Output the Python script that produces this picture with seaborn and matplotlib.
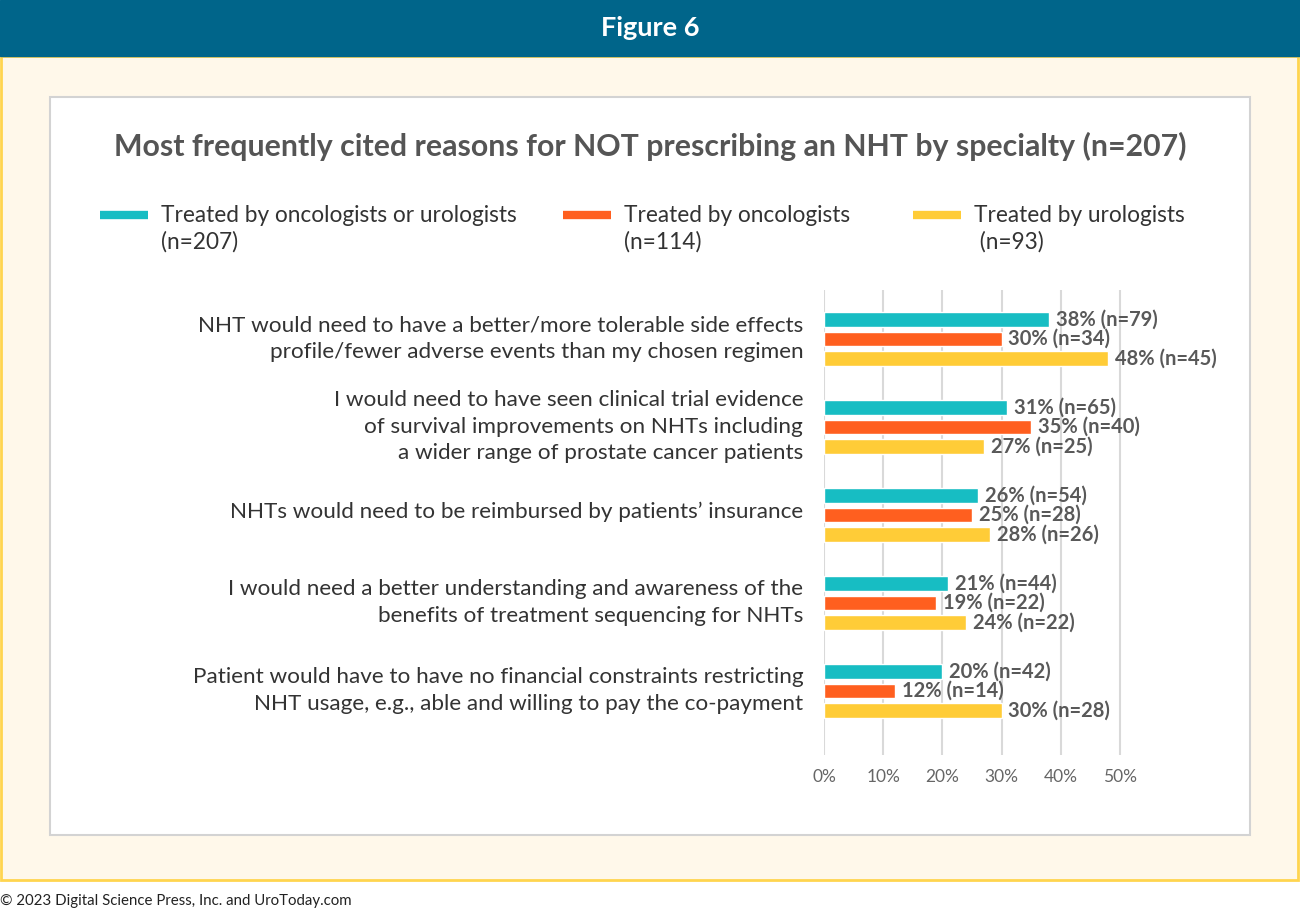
import numpy as np
import pandas as pd
import matplotlib.pyplot as plt
import matplotlib.transforms as mtransforms
import seaborn as sns
from matplotlib.patches import Rectangle

reasons = [
    "NHT would need to have a better/more tolerable side effects\nprofile/fewer adverse events than my chosen regimen",
    "I would need to have seen clinical trial evidence\nof survival improvements on NHTs including\na wider range of prostate cancer patients",
    "NHTs would need to be reimbursed by patients\u2019 insurance",
    "I would need a better understanding and awareness of the\nbenefits of treatment sequencing for NHTs",
    "Patient would have to have no financial constraints restricting\nNHT usage, e.g., able and willing to pay the co-payment",
]
groups = ["Treated by oncologists or urologists\n(n=207)",
          "Treated by oncologists\n(n=114)",
          "Treated by urologists\n (n=93)"]
pct_all = [38, 31, 26, 21, 20]
n_all = [79, 65, 54, 44, 42]
pct_onc = [30, 35, 25, 19, 12]
n_onc = [34, 40, 28, 22, 14]
pct_uro = [48, 27, 28, 24, 30]
n_uro = [45, 25, 26, 22, 28]
colors = ["#17BDC3", "#FF5F1F", "#FFCC37"]

df = pd.DataFrame({
    "reason": reasons * 3,
    "group": [g for g in groups for _ in reasons],
    "pct": pct_all + pct_onc + pct_uro,
    "n": n_all + n_onc + n_uro,
})

sns.set_theme(style="white")
plt.rcParams['font.family'] = ['Lato', 'DejaVu Sans']

fig = plt.figure(figsize=(13, 9.13), dpi=100)

# background frame in pixel coordinates
bg = fig.add_axes([0, 0, 1, 1], zorder=0)
bg.set_xlim(0, 1300)
bg.set_ylim(913, 0)
bg.axis('off')
bg.add_patch(Rectangle((0, 0), 1300, 913, color='white'))
bg.add_patch(Rectangle((1, 56), 1297, 824, facecolor='#FFF8EA', edgecolor='#FFD54F', lw=2))
bg.add_patch(Rectangle((0, 0), 1300, 56, color='#00658A'))
bg.add_patch(Rectangle((50, 97), 1200, 738, facecolor='white', edgecolor='#D3D3D3', lw=1.5))
bg.text(650, 28, "Figure 6", color='white', fontsize=19.5, fontweight='bold', ha='center', va='center')
bg.text(650, 146, "Most frequently cited reasons for NOT prescribing an NHT by specialty (n=207)",
        color='#555555', fontsize=21.8, fontweight='bold', ha='center', va='center')
bg.text(0, 901, "\u00a9 2023 Digital Science Press, Inc. and UroToday.com",
        color='#222222', fontsize=10.8, ha='left', va='center')

# legend
leg_x = [100, 563, 913]
for x0, g, c in zip(leg_x, groups, colors):
    bg.plot([x0, x0 + 48], [215, 215], color=c, lw=6, solid_capstyle='butt')
    bg.text(x0 + 61, 229, g, color='#333333', fontsize=16.3, ha='left', va='center', linespacing=1.32)

ax = fig.add_axes([824 / 1300, 1 - 755 / 913, 355 / 1300, 465 / 913], zorder=2)
ax.patch.set_alpha(0)
sns.barplot(data=df, y="reason", x="pct", hue="group", orient="h", palette=colors,
            width=0.67, gap=0.24, saturation=1, legend=False, ax=ax)

for cont, p, n in zip(ax.containers, [pct_all, pct_onc, pct_uro], [n_all, n_onc, n_uro]):
    ax.bar_label(cont, labels=[f"{a}% (n={b})" for a, b in zip(p, n)], padding=5,
                 fontsize=14.5, fontweight='bold', color='#595959', clip_on=False)

ax.set_xlim(0, 60)
ax.set_ylim(4.727, -0.557)
ax.set_xticks([0, 10, 20, 30, 40, 50])
ax.set_xticklabels([f"{v}%" for v in [0, 10, 20, 30, 40, 50]])
ax.xaxis.grid(True, color='#D9D9D9', lw=1.5)
ax.set_axisbelow(True)
ax.tick_params(axis='x', length=0, pad=10, labelsize=12.5, labelcolor='#666666')
ax.tick_params(axis='y', length=0, pad=15, labelsize=16.2, labelcolor='#333333')
shift = mtransforms.ScaledTranslation(0, 4 / 72, fig.dpi_scale_trans)
for lab in ax.get_yticklabels():
    lab.set_linespacing(1.38)
    lab.set_transform(lab.get_transform() + shift)
ax.set_xlabel("")
ax.set_ylabel("")
sns.despine(ax=ax, left=True, bottom=True)

fig.savefig("out.png", dpi=100)
